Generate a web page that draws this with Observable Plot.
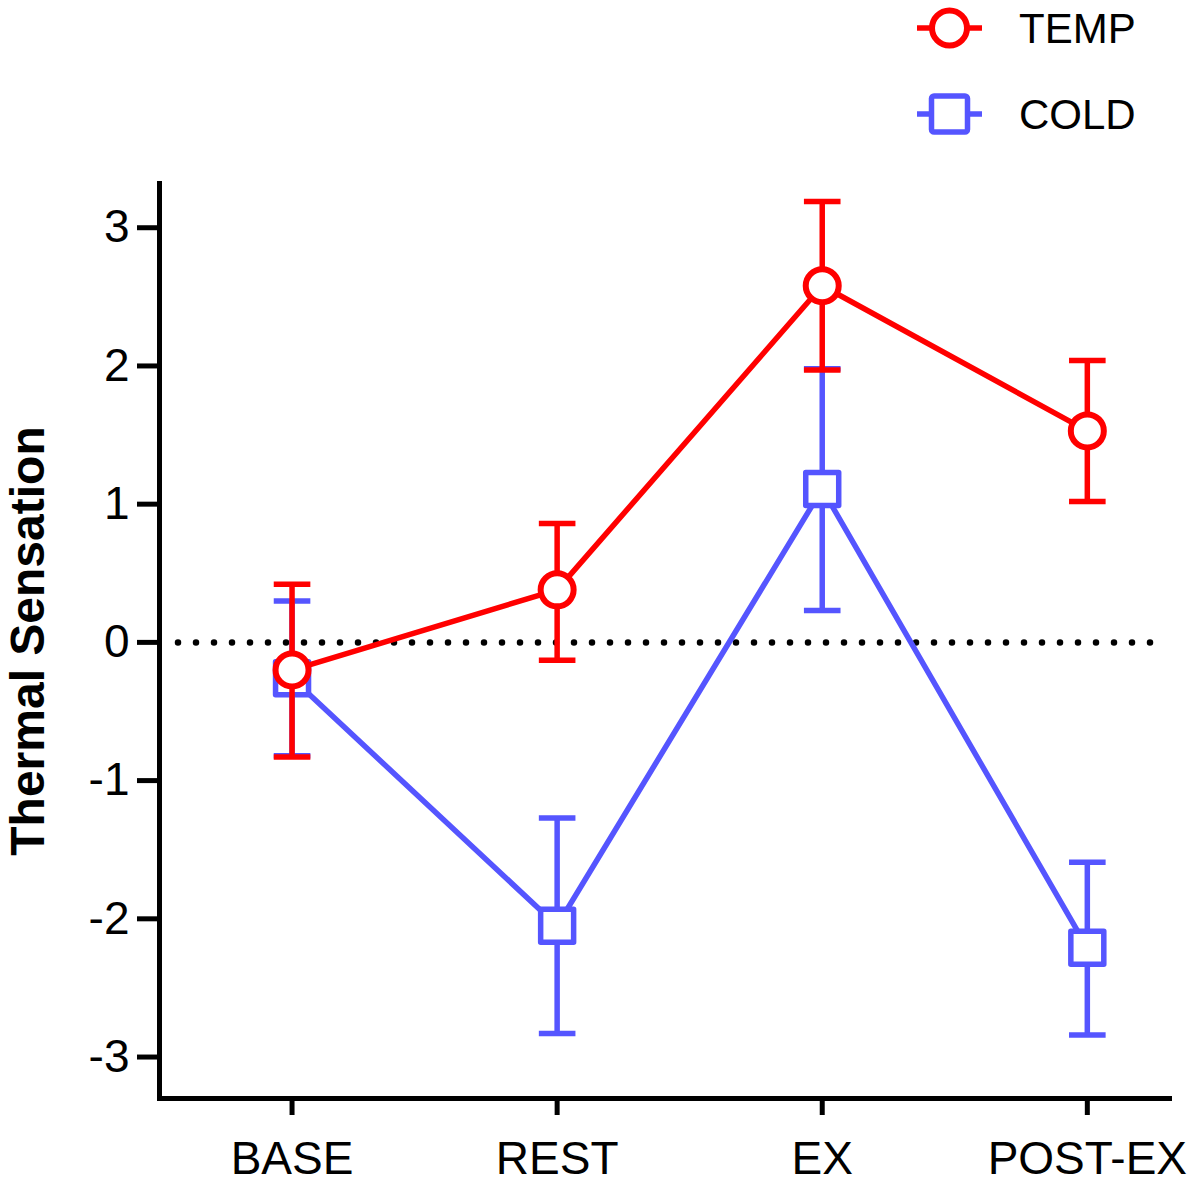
<!DOCTYPE html>
<html>
<head>
<meta charset="utf-8">
<script src="https://cdn.jsdelivr.net/npm/d3@7"></script>
<script src="https://cdn.jsdelivr.net/npm/@observablehq/plot@0.6"></script>
<style>
  html, body { margin: 0; padding: 0; background: #fff; }
  #wrap { position: relative; width: 1201px; height: 1186px; font-family: "Liberation Sans", Arial, sans-serif; }
  #legend { position: absolute; left: 0; top: 0; }
  #chart svg { display: block; }
  g[aria-label="y-axis label"] text { font-weight: bold; font-size: 48px; }
</style>
</head>
<body>
<div id="wrap">
  <div id="chart"></div>
  <svg id="legend" width="1201" height="160"></svg>
</div>
<script>
const categories = ["BASE", "REST", "EX", "POST-EX"];
const seriesNames = ["TEMP", "COLD"];
const seriesColors = ["#ff0000", "#5555ff"];
const tempMean = [-0.20, 0.38, 2.58, 1.53];
const tempLow  = [-0.83, -0.13, 1.97, 1.02];
const tempHigh = [0.42, 0.86, 3.19, 2.04];
const coldMean = [-0.26, -2.05, 1.11, -2.21];
const coldLow  = [-0.82, -2.83, 0.23, -2.84];
const coldHigh = [0.30, -1.27, 1.98, -1.59];
const yTicks = [-3, -2, -1, 0, 1, 2, 3];
const yLabel = "Thermal Sensation";

const rows = (mean, low, high, s) => categories.map((c, i) => ({
  cat: c, idx: i, mean: mean[i], low: low[i], high: high[i], series: s
}));
const temp = rows(tempMean, tempLow, tempHigh, seriesNames[0]);
const cold = rows(coldMean, coldLow, coldHigh, seriesNames[1]);

const capSymbol = {
  draw(context, size) {
    const r = Math.sqrt(size / Math.PI);
    context.moveTo(-r, 0);
    context.lineTo(r, 0);
  }
};

const RED = seriesColors[0], BLUE = seriesColors[1];
const xIdx = d => categories.indexOf(d.cat);

function seriesMarks(data, color, symbol, r, sw) {
  return [
    Plot.line(data, {x: xIdx, y: "mean", stroke: color, strokeWidth: 5.5}),
    Plot.ruleX(data, {x: xIdx, y1: "low", y2: "high", stroke: color, strokeWidth: 5.5}),
    Plot.dot(data, {x: xIdx, y: "low", symbol: capSymbol, r: 18.3, stroke: color, strokeWidth: 5.5, fill: "none"}),
    Plot.dot(data, {x: xIdx, y: "high", symbol: capSymbol, r: 18.3, stroke: color, strokeWidth: 5.5, fill: "none"}),
    Plot.dot(data, {x: xIdx, y: "mean", symbol, r, stroke: color, strokeWidth: sw, fill: "white", strokeLinejoin: "round"})
  ];
}

const chart = Plot.plot({
  width: 1201,
  height: 1186,
  marginTop: 183,
  marginBottom: 88,
  marginLeft: 159,
  marginRight: 32,
  style: {fontFamily: "'Liberation Sans', Arial, sans-serif", background: "white", color: "black"},
  x: {type: "linear", domain: [-0.5, 3.31]},
  y: {domain: [-3.3, 3.32]},
  marks: [
    Plot.ruleY([0], {stroke: "black", strokeWidth: 6.5, strokeDasharray: "0,18", strokeLinecap: "round", insetLeft: 19, insetRight: 16}),
    ...seriesMarks(cold, BLUE, "square", 18.6, 5.5),
    ...seriesMarks(temp, RED, "circle", 16.5, 6),
    Plot.axisY({ticks: yTicks, tickFormat: d => String(d), tickSize: 22, tickPadding: 8, strokeWidth: 5, fontSize: 46,
      label: yLabel, labelAnchor: "center", labelOffset: 150, labelArrow: "none"}),
    Plot.axisX({ticks: [0, 1, 2, 3], tickFormat: i => categories[i], tickSize: 17, tickPadding: 26, strokeWidth: 5, fontSize: 46, label: null}),
    Plot.frame({anchor: "left", strokeWidth: 5, stroke: "black"}),
    Plot.frame({anchor: "bottom", strokeWidth: 5, stroke: "black"})
  ]
});
document.getElementById("chart").appendChild(chart);

// Legend (HTML/SVG overlay)
const legend = d3.select("#legend");
const items = [
  {name: seriesNames[0], color: RED, shape: "circle", cy: 28},
  {name: seriesNames[1], color: BLUE, shape: "square", cy: 114}
];
items.forEach(it => {
  const g = legend.append("g");
  g.append("line").attr("x1", 917).attr("x2", 982).attr("y1", it.cy).attr("y2", it.cy)
    .attr("stroke", it.color).attr("stroke-width", 5.5);
  if (it.shape === "circle") {
    g.append("circle").attr("cx", 949.5).attr("cy", it.cy).attr("r", 17.5)
      .attr("fill", "white").attr("stroke", it.color).attr("stroke-width", 6);
  } else {
    g.append("rect").attr("x", 949.5 - 18).attr("y", it.cy - 18).attr("width", 36).attr("height", 36)
      .attr("rx", 2.5).attr("fill", "white").attr("stroke", it.color).attr("stroke-width", 5.5);
  }
  g.append("text").attr("x", 1019).attr("y", it.cy + 15).attr("font-size", 42)
    .attr("font-family", "'Liberation Sans', Arial, sans-serif").attr("fill", "black").text(it.name);
});
</script>
</body>
</html>
